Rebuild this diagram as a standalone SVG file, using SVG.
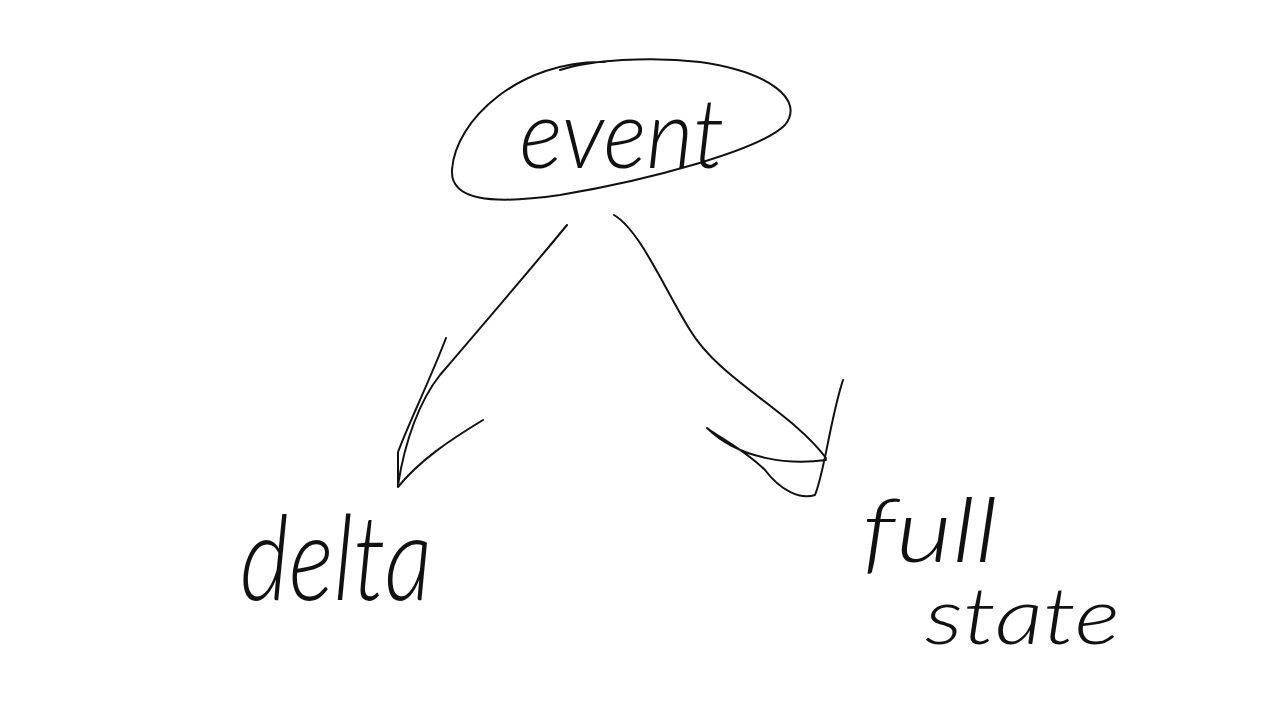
<svg xmlns="http://www.w3.org/2000/svg" width="1280" height="725" viewBox="0 0 1280 725">
<style>
.ink{fill:none;stroke:#111;stroke-width:2;stroke-linecap:round;stroke-linejoin:round}
.hand{font-family:Lato,"Open Sans","DejaVu Sans",sans-serif;font-style:italic;font-weight:300;fill:#111}
</style>
<rect width="1280" height="725" fill="#fff"/>
<g id="event">
<path class="ink" d="M605 62 C520 60 455 120 452 170 C450 200 490 205 560 195 C650 180 760 150 785 125 C805 100 770 72 700 62 C650 56 590 60 560 70"/>
<text class="hand" x="622" y="168" font-size="96" text-anchor="middle" textLength="205" lengthAdjust="spacingAndGlyphs">event</text>
</g>
<g id="delta">
<text class="hand" x="240" y="600" font-size="118" textLength="192" lengthAdjust="spacingAndGlyphs">delta</text>
</g>
<g id="full-state">
<text class="hand" x="862" y="562" font-size="88" textLength="136" lengthAdjust="spacingAndGlyphs">full</text>
<text class="hand" x="925" y="644" font-size="78" textLength="195" lengthAdjust="spacingAndGlyphs">state</text>
</g>
<g id="connectors">
<path class="ink" d="M567 225 C530 270 470 340 440 375 C420 400 405 440 398 485"/>
<path class="ink" d="M446 338 C430 380 410 420 398 452 L398 487 C420 460 450 440 483 420"/>
<path class="ink" d="M614 215 C640 230 665 290 690 330 C720 380 790 410 826 458"/>
<path class="ink" d="M843 380 C830 420 825 470 815 495 C800 500 780 490 765 470 C745 450 720 438 707 428 C740 460 790 465 826 460"/>
</g>
</svg>
